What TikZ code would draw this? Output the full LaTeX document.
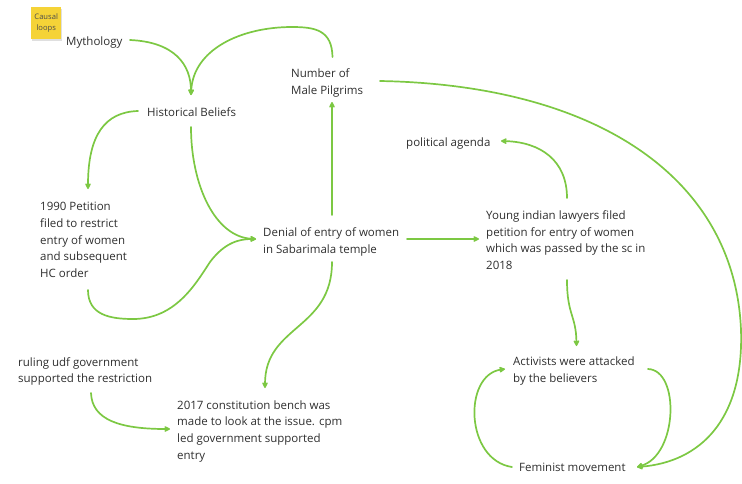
\documentclass[tikz,border=0pt]{standalone}
\usepackage{fontspec}
\setmainfont{Open Sans}
\usetikzlibrary{arrows.meta,shadows}
\definecolor{linkgreen}{HTML}{7CC843}
\definecolor{txtgray}{HTML}{2E2E2E}
\definecolor{notefill}{HTML}{F5D337}
\begin{document}
\begin{tikzpicture}[x=1pt,y=-1pt,
  lbl/.style={anchor=north west,inner sep=0pt,align=left,text=txtgray,
    font=\fontsize{11.5}{16.7}\selectfont},
  link/.style={draw=linkgreen,line width=1.7pt,line cap=round,
    -{Stealth[length=7pt,width=7pt,inset=1.5pt,round]}},
  sticky/.style={fill=notefill,minimum width=30pt,minimum height=32pt,
    inner sep=0pt,align=center,text=black!70,
    font=\fontsize{7.6}{11}\selectfont,
    drop shadow={shadow xshift=1pt,shadow yshift=-2pt,opacity=0.25}}]
\useasboundingbox (0,0) rectangle (742,483);

% sticky note
\node[sticky,anchor=north west] (note) at (31,7) {Causal\\loops};

% factors
\node[lbl] (myth) at (66,36.7) {Mythology};
\node[lbl] (pilg) at (291,68.3) {Number of\\Male Pilgrims};
\node[lbl] (hist) at (147,107) {Historical Beliefs};
\node[lbl] (agenda) at (406,137.7) {political agenda};
\node[lbl] (petition) at (40,202) {1990 Petition\\filed to restrict\\entry of women\\and subsequent\\HC order};
\node[lbl] (denial) at (263,227.7) {Denial of entry of women\\in Sabarimala temple};
\node[lbl] (young) at (486,210.3) {Young indian lawyers filed\\petition for entry of women\\which was passed by the sc in\\2018};
\node[lbl] (ruling) at (18,357) {ruling udf government\\supported the restriction};
\node[lbl] (bench) at (177,400.3) {2017 constitution bench was\\made to look at the issue. cpm\\led government supported\\entry};
\node[lbl] (activists) at (513,356.7) {Activists were attacked\\by the believers};
\node[lbl] (feminist) at (519,463.3) {Feminist movement};

% causal links
\draw[link] ([shift={(64,3.3)}]myth.north west)
  .. controls (175,42) and (191,65) .. ([shift={(44,-12)}]hist.north west);
\draw[link] ([shift={(41.5,-11.3)}]pilg.north west)
  .. controls (332,30) and (315,27) .. (292,27)
  .. controls (240,27) and (193,50) .. ([shift={(44,-12)}]hist.north west);
\draw[link] ([shift={(-9,4)}]hist.north west)
  .. controls (105,112) and (88,135) .. ([shift={(48,-13)}]petition.north west);
\draw[link] ([shift={(44,20)}]hist.north west)
  .. controls (191,185) and (215,237) .. ([shift={(-7,11.3)}]denial.north west);
\draw[link] ([shift={(48,88)}]petition.north west)
  .. controls (88,315) and (110,319) .. (133,319)
  .. controls (175,319) and (195,285) .. (210,262)
  .. controls (225,242) and (240,239) .. ([shift={(-7,11.3)}]denial.north west);
\draw[link] ([shift={(69,-12.7)}]denial.north west) -- ([shift={(41,33.7)}]pilg.north west);
\draw[link] ([shift={(144,11.3)}]denial.north west) -- ([shift={(-7,28.7)}]young.north west);
\draw[link] ([shift={(69,34.3)}]denial.north west)
  .. controls (332,330) and (265,325) .. ([shift={(88,-12.3)}]bench.north west);
\draw[link] ([shift={(73,36)}]ruling.north west)
  .. controls (92,420) and (120,429) .. ([shift={(-7,28.7)}]bench.north west);
\draw[link] ([shift={(81,-12.3)}]young.north west)
  .. controls (567,160) and (540,142) .. ([shift={(95,3.3)}]agenda.north west);
\draw[link] ([shift={(81,69.7)}]young.north west)
  .. controls (567,315) and (576,315) .. ([shift={(63.5,-10.7)}]activists.north west);
\draw[link] ([shift={(89,12.7)}]pilg.north west)
  .. controls (600,85) and (735,180) .. (741,330)
  .. controls (744,420) and (700,462) .. ([shift={(118,3.7)}]feminist.north west);
\draw[link] ([shift={(135,12.3)}]activists.north west)
  .. controls (680,370) and (678,455) .. ([shift={(118,3.7)}]feminist.north west);
\draw[link] ([shift={(-7,3.7)}]feminist.north west)
  .. controls (465,460) and (463,375) .. ([shift={(-8,12.3)}]activists.north west);
\end{tikzpicture}
\end{document}
